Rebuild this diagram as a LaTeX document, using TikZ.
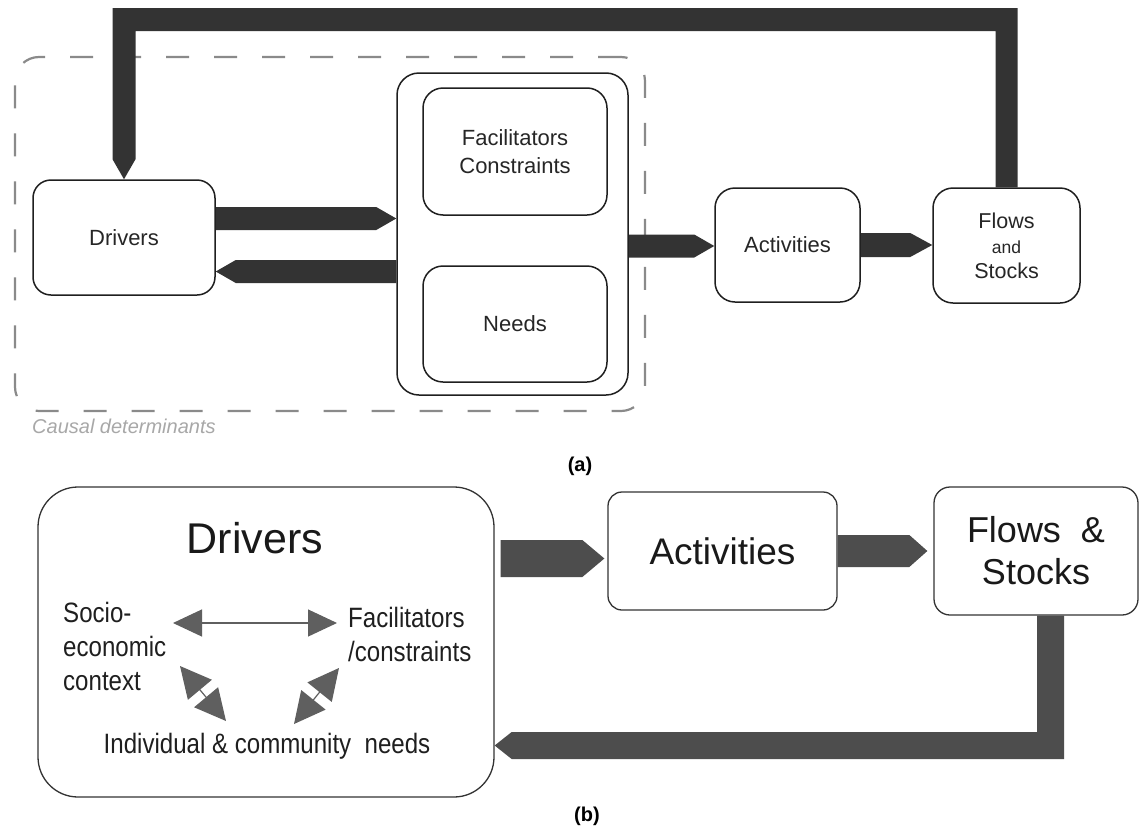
\documentclass[tikz,border=0pt]{standalone}
\usepackage{fontspec}
\setmainfont{Liberation Sans}
\newfontfamily\narrowf[FakeStretch=0.86]{Liberation Sans}
\usetikzlibrary{calc,arrows.meta}
\definecolor{arrA}{HTML}{333333}
\definecolor{arrB}{HTML}{4D4D4D}
\definecolor{dblc}{HTML}{5F5F5F}
\definecolor{dashc}{HTML}{8A8A8A}
\definecolor{capc}{HTML}{A8A8A8}
\newcommand\pentR[5][]{\fill[#1] ($(#2)+(0,-#4)$) -- ($(#3)+(-#5,-#4)$) -- (#3) -- ($(#3)+(-#5,#4)$) -- ($(#2)+(0,#4)$) -- cycle;}
\newcommand\pentL[5][]{\fill[#1] ($(#2)+(0,-#4)$) -- ($(#3)+(#5,-#4)$) -- (#3) -- ($(#3)+(#5,#4)$) -- ($(#2)+(0,#4)$) -- cycle;}
\begin{document}
\begin{tikzpicture}[x=1pt,y=-1pt,
  boxa/.style={draw=black!88, line width=1.5pt, rounded corners=#1, fill=white, inner sep=0pt, align=center,
    font=\fontsize{22}{28}\selectfont, text=black!85},
  boxa/.default=18pt,
  boxb/.style={draw=black!80, line width=1.3pt, rounded corners=#1, fill=white, inner sep=0pt, align=center, text=black!90},
  boxb/.default=14pt,
  dashbnd/.style={draw=dashc, line width=2.2pt, dash pattern=on 23pt off 25pt, rounded corners=24pt, inner sep=0pt},
  dbl/.style={draw=dblc, line width=1.2pt, {Triangle[width=27pt,length=29pt]}-{Triangle[width=27pt,length=29pt]}},
  dbls/.style={draw=dblc, line width=1.2pt, {Triangle[width=31pt,length=31pt]}-{Triangle[width=31pt,length=31pt]}},
  txtb/.style={font=\narrowf\fontsize{28}{34}\selectfont, inner sep=0pt, text=black!88},
  lab/.style={font=\bfseries\fontsize{20}{24}\selectfont, inner sep=0pt}
]
\fill[white] (0,0) rectangle (1140,830);
\useasboundingbox (0,0) rectangle (1140,830);

% ---------------- (a) ----------------
\node[dashbnd, minimum width=630pt, minimum height=354pt] (grp) at (330,234) {};
\node[anchor=base west, inner sep=0pt, text=capc, font=\itshape\fontsize{20}{24}\selectfont] (causal) at (32,433) {Causal determinants};

\node[boxa, minimum width=182pt, minimum height=115pt] (drvA) at (124,237.5) {Drivers};
\node[boxa=22pt, minimum width=231pt, minimum height=322pt] (bigA) at (512.5,234) {};
\node[boxa=20pt, minimum width=184pt, minimum height=127pt] (facA) at (515,151.5) {Facilitators\\Constraints};
\node[boxa=20pt, minimum width=184pt, minimum height=116pt] (needA) at (515,324) {Needs};
\node[boxa=20pt, minimum width=145pt, minimum height=114pt] (actA) at (787.5,245) {Activities};
\node[boxa=20pt, minimum width=147pt, minimum height=115pt, font=\fontsize{21.5}{25}\selectfont] (flA) at (1006.5,245.5)
  {Flows\\{\fontsize{17.5}{25}\selectfont and}\\Stocks};

\pentR[arrA]{drvA.east |- 0,218.5}{bigA.west |- 0,218.5}{11.5}{20}
\pentL[arrA]{bigA.west |- 0,271.5}{drvA.east |- 0,271.5}{11.5}{20}
\pentR[arrA]{bigA.east |- 0,246}{actA.west |- 0,246}{11.5}{20}
\pentR[arrA]{actA.east |- 0,245}{flA.west |- 0,245}{12}{22}

\coordinate (fbA) at (0,19.5);
\fill[arrA] ($(flA.north)+(11,0)$) -- ($(flA.north |- fbA)+(11,-11.5)$) -- ($(drvA.north |- fbA)+(-11.5,-11.5)$)
  -- ($(drvA.north)+(-11.5,-20)$) -- (drvA.north) -- ($(drvA.north)+(11.5,-20)$)
  -- ($(drvA.north |- fbA)+(11.5,11.5)$) -- ($(flA.north |- fbA)+(-11,11.5)$) -- ($(flA.north)+(-11,0)$) -- cycle;

\node[lab, anchor=base] (laba) at (580,471) {(a)};

% ---------------- (b) ----------------
\node[boxb=40pt, minimum width=456pt, minimum height=310pt] (drvB) at (266,642) {};
\node[anchor=base, inner sep=0pt, font=\fontsize{43}{50}\selectfont, text=black!90] (drvBt) at (255,553) {Drivers};
\node[txtb, anchor=west, align=left] (socio) at (63,646) {Socio-\\economic\\context};
\node[txtb, anchor=west, align=left] (facil) at (348,634) {Facilitators\\/constraints};
\node[txtb, anchor=base] (needs) at (267,753) {Individual \& community~ needs};

\coordinate (d1a) at (173,623); \coordinate (d1b) at (337,623);
\coordinate (d2a) at (180,666); \coordinate (d2b) at (226,721);
\coordinate (d3a) at (339,668); \coordinate (d3b) at (294,724);
\draw[dbl] (d1a) -- (d1b);
\draw[dbls] (d2a) -- (d2b);
\draw[dbls] (d3a) -- (d3b);

\node[boxb=14pt, minimum width=229pt, minimum height=118pt, font=\fontsize{37}{44}\selectfont] (actB) at (722.5,551) {Activities};
\node[boxb=16pt, minimum width=204pt, minimum height=128pt, font=\fontsize{36}{42}\selectfont] (flB) at (1036,551) {Flows~ \&\\Stocks};

\coordinate (b1s) at ($(drvB.east |- 0,558.5)+(6,0)$);
\coordinate (b1t) at ($(actB.west |- 0,558.5)+(-3,0)$);
\pentR[arrB]{b1s}{b1t}{18.5}{22}
\coordinate (b2t) at ($(flB.west |- 0,551)+(-6,0)$);
\pentR[arrB]{actB.east |- 0,551}{b2t}{16}{18}

\coordinate (fbB) at (1050.5,745.5);
\coordinate (fbBtip) at (drvB.east |- fbB);
\fill[arrB] ($(flB.south -| fbB)+(-13.5,0)$) -- ($(fbB)+(-13.5,-13.5)$) -- ($(fbBtip)+(17,-13.5)$) -- (fbBtip)
  -- ($(fbBtip)+(17,13.5)$) -- ($(fbB)+(13.5,13.5)$) -- ($(flB.south -| fbB)+(13.5,0)$) -- cycle;

\node[lab, anchor=base] (labb) at (587,821) {(b)};
\end{tikzpicture}
\end{document}
